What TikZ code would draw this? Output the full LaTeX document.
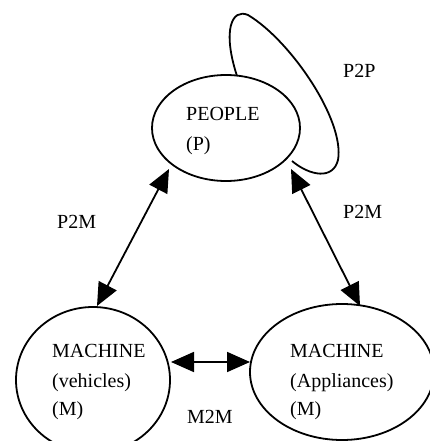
\documentclass[tikz,border=0pt]{standalone}
\usepackage{fontspec}
\setmainfont{Liberation Serif}
\usetikzlibrary{shapes.geometric,arrows.meta}
\begin{document}
\begin{tikzpicture}[x=1pt,y=-1pt,
  blob/.style={draw,ellipse,line width=1.8pt,inner sep=0pt},
  txt/.style={anchor=base west,inner sep=0pt,font=\fontsize{20}{29}\selectfont},
  link/.style={line width=1.8pt,{Triangle[length=23pt,width=20pt]}-{Triangle[length=23pt,width=20pt]}},
  loopline/.style={line width=1.8pt}]
\useasboundingbox (0,0) rectangle (429,441);
\node[blob,minimum width=148pt,minimum height=106pt] (P) at (226,128) {};
\node[blob,minimum width=154pt,minimum height=146pt] (MV) at (93,380) {};
\node[blob,minimum width=184pt,minimum height=136pt] (MA) at (342,372) {};
% texts
\node[txt] (tP1) at (186,121) {PEOPLE};
\node[txt] (tP2) at (186,150) {(P)};
\node[txt] (tV1) at (52,357) {MACHINE};
\node[txt] (tV2) at (52,387) {(vehicles)};
\node[txt] (tV3) at (52,415) {(M)};
\node[txt] (tA1) at (290,357) {MACHINE};
\node[txt] (tA2) at (290,387) {(Appliances)};
\node[txt] (tA3) at (290,415) {(M)};
\node[txt] (lP2P) at (343,78) {P2P};
\node[txt] (lL) at (57,228) {P2M};
\node[txt] (lR) at (343,218) {P2M};
\node[txt] (lM) at (187,423) {M2M};
% connectors
\coordinate (a1) at (169,169);
\coordinate (a2) at (97,306);
\coordinate (b1) at (291,169);
\coordinate (b2) at (360,306);
\coordinate (c1) at (171,362);
\coordinate (c2) at (250,362);
\draw[link] (a1) -- (a2);
\draw[link] (b1) -- (b2);
\draw[link] (c1) -- (c2);
% self loop
\coordinate (s1) at (237,76);
\coordinate (s2) at (292,161);
\draw[loopline] (s1) .. controls (222,30) and (232,8) .. (248,15)
  .. controls (290,40) and (345,120) .. (338,160)
  .. controls (333,180) and (310,176) .. (s2);
\end{tikzpicture}
\end{document}
